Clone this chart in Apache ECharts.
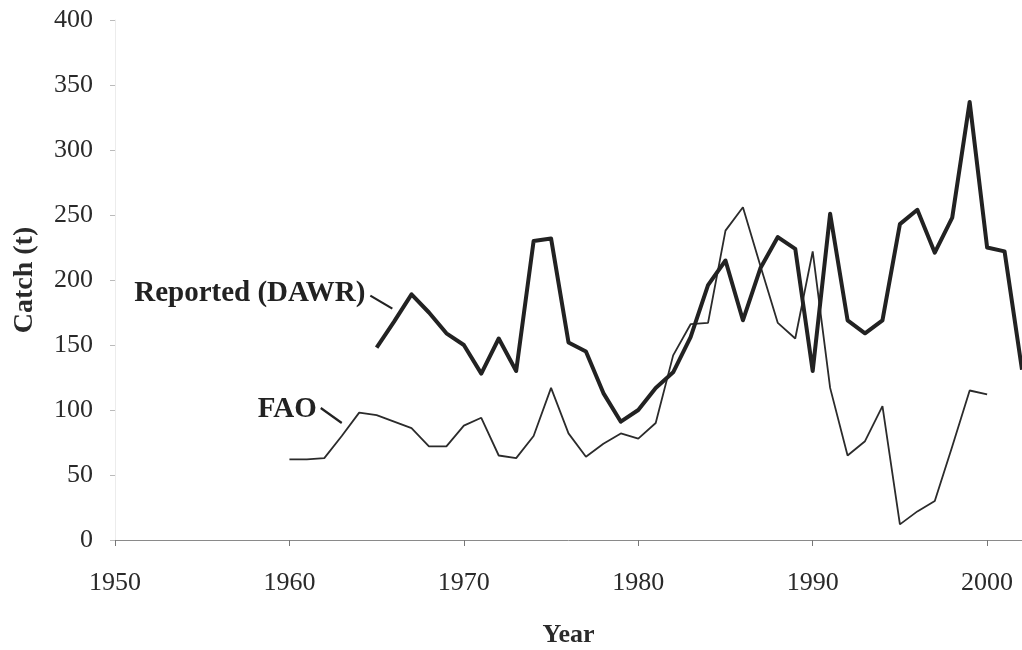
<!DOCTYPE html>
<html>
<head>
<meta charset="utf-8">
<script src="https://cdn.jsdelivr.net/npm/echarts@6/dist/echarts.min.js"></script>
<style>
html,body{margin:0;padding:0;background:#fff;}
#chart{width:1022px;height:650px;}
</style>
</head>
<body>
<div id="chart"></div>
<script>
// Data
const dawrYears = [1965,1966,1967,1968,1969,1970,1971,1972,1973,1974,1975,1976,1977,1978,1979,1980,1981,1982,1983,1984,1985,1986,1987,1988,1989,1990,1991,1992,1993,1994,1995,1996,1997,1998,1999,2000,2001,2002];
const dawrValues = [148,168,189,175,159,150,128,155,130,230,232,152,145,113,91,100,117,129,156,196,215,169,209,233,224,130,251,169,159,169,243,254,221,248,337,225,222,131];
const faoYears = [1960,1961,1962,1963,1964,1965,1966,1967,1968,1969,1970,1971,1972,1973,1974,1975,1976,1977,1978,1979,1980,1981,1982,1983,1984,1985,1986,1987,1988,1989,1990,1991,1992,1993,1994,1995,1996,1997,1998,1999,2000];
const faoValues = [62,62,63,80,98,96,91,86,72,72,88,94,65,63,80,117,82,64,74,82,78,90,142,166,167,238,256,211,167,155,222,117,65,76,103,12,22,30,72,115,112];
const yTicks = [0,50,100,150,200,250,300,350,400];
const xTicks = [1950,1960,1970,1980,1990,2000];
const seriesNames = ['Reported (DAWR)','FAO'];

const serif = '"Liberation Serif","DejaVu Serif",serif';
const chart = echarts.init(document.getElementById('chart'), null, {renderer:'canvas'});

const option = {
  backgroundColor:'#ffffff',
  animation:false,
  grid:{left:115, right:0, top:20, bottom:110, containLabel:false, outerBoundsMode:'none'},
  xAxis:{
    type:'value', min:xTicks[0], max:2002, interval:10,
    axisLine:{show:true, lineStyle:{color:'#8a8a8a', width:1}},
    axisTick:{show:true, inside:false, length:6, lineStyle:{color:'#777', width:1},
      customValues: xTicks},
    splitLine:{show:false},
    axisLabel:{fontFamily:serif, fontSize:26, color:'#2a2a2a', margin:30,
      customValues: xTicks, formatter:v=>String(v)},
    name:'Year', nameLocation:'middle', nameGap:82,
    nameTextStyle:{fontFamily:serif, fontSize:26, fontWeight:'bold', color:'#2a2a2a'}
  },
  yAxis:{
    type:'value', min:0, max:400, interval:50,
    axisLine:{show:true, lineStyle:{color:'#ececec', width:1}},
    axisTick:{show:true, length:5, lineStyle:{color:'#bbb', width:1}},
    splitLine:{show:false},
    axisLabel:{fontFamily:serif, fontSize:26, color:'#2a2a2a', margin:22,
      formatter:v=> yTicks.indexOf(v)>=0 ? String(v) : ''},
    name:'Catch (t)', nameLocation:'middle', nameGap:76, nameRotate:90,
    nameTextStyle:{fontFamily:serif, fontSize:28, fontWeight:'bold', color:'#2a2a2a'}
  },
  series:[
    {
      name:seriesNames[1], type:'line', showSymbol:false, symbol:'none',
      data: faoYears.map((y,i)=>[y, faoValues[i]]),
      lineStyle:{color:'#2b2b2b', width:1.8}, z:2
    },
    {
      name:seriesNames[0], type:'line', showSymbol:false, symbol:'none',
      data: dawrYears.map((y,i)=>[y, dawrValues[i]]),
      lineStyle:{color:'#222222', width:4, join:'round'}, z:3
    }
  ]
};
chart.setOption(option);

// Annotation labels with leader lines, anchored in data space
function px(pt){ return chart.convertToPixel({gridIndex:0}, pt); }
const dawrLabelAnchor = px([1965.9, 178]);   // end of leader near DAWR line
const faoLabelAnchor = px([1963.0, 90]);     // end of leader near FAO line
chart.setOption({
  graphic:[
    {type:'text',
      style:{text:seriesNames[0], font:'bold 29px '+serif, fill:'#222', textAlign:'right', textVerticalAlign:'middle'},
      x: dawrLabelAnchor[0]-27, y: dawrLabelAnchor[1]-15},
    {type:'line', shape:{x1:dawrLabelAnchor[0]-22, y1:dawrLabelAnchor[1]-13, x2:dawrLabelAnchor[0], y2:dawrLabelAnchor[1]},
      style:{stroke:'#222', lineWidth:2.2}},
    {type:'text',
      style:{text:seriesNames[1], font:'bold 29px '+serif, fill:'#222', textAlign:'right', textVerticalAlign:'middle'},
      x: faoLabelAnchor[0]-25, y: faoLabelAnchor[1]-13},
    {type:'line', shape:{x1:faoLabelAnchor[0]-21, y1:faoLabelAnchor[1]-15, x2:faoLabelAnchor[0], y2:faoLabelAnchor[1]},
      style:{stroke:'#222', lineWidth:2.2}}
  ]
});
</script>
</body>
</html>
